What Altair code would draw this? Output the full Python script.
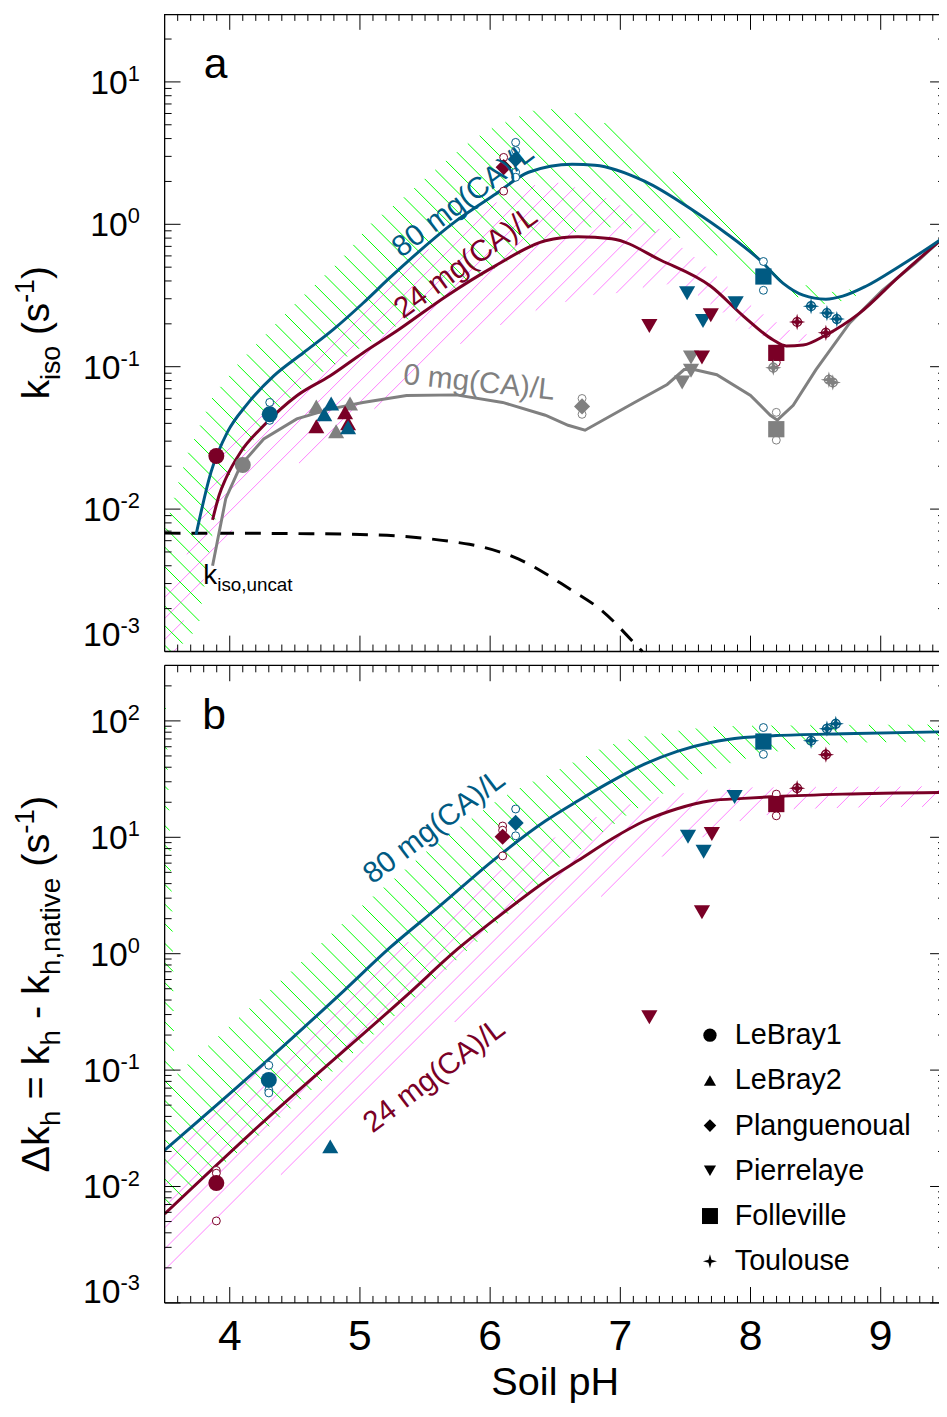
import numpy as np
import pandas as pd
import altair as alt

FONT = "Liberation Sans"
BLUE = "#005a82"
MAROON = "#7a0026"
GREY = "#808080"
GREEN = "#00ff00"
PINK = "#ff80ff"
BLACK = "#000000"

W, H = 781, 643          # plot width, height of one panel
GAP = 14
PB = H + GAP              # top of panel b inside the single view
HT = 2 * H + GAP
PX_PER_PH = 131.31
PH_DOMAIN = [3.5, 3.5 + W / PX_PER_PH]
KA_DOMAIN = [0.001, 30.0]
KB_DOMAIN = [0.001, 300.0]

SITES = ["LeBray1", "LeBray2", "Planguenoual", "Pierrelaye", "Folleville", "Toulouse"]
CONCS = [0, 24, 80]
CONC_COLORS = [GREY, MAROON, BLUE]

# ---------------- panel a: model curves k_iso (s-1) ----------------
a80_ph = [3.741, 3.856, 3.982, 4.134, 4.338, 4.566, 4.794, 5.023, 5.228, 5.739, 6.043, 6.295, 6.630,
          6.805, 7.185, 7.566, 7.817, 8.076, 8.251, 8.404, 8.579, 8.708, 8.883, 9.142, 9.447, 9.5]
a80_k = [0.0066, 0.0182, 0.0347, 0.0546, 0.0861, 0.1253, 0.182, 0.279, 0.42, 1.057, 1.633, 2.32, 2.64,
         2.60, 2.01, 1.24, 0.859, 0.557, 0.385, 0.318, 0.298, 0.313, 0.366, 0.506, 0.767, 0.83]
a24_ph = [3.868, 3.919, 3.97, 4.084, 4.261, 4.515, 4.769, 5.023, 5.282, 5.663, 6.043, 6.424, 6.675,
          6.934, 7.315, 7.695, 7.947, 8.175, 8.274, 8.404, 8.579, 8.838, 9.142, 9.447, 9.5]
a24_k = [0.0084, 0.01256, 0.0164, 0.0252, 0.0386, 0.0625, 0.0861, 0.125, 0.178, 0.313, 0.513, 0.767, 0.818,
         0.792, 0.557, 0.367, 0.226, 0.154, 0.140, 0.142, 0.167, 0.238, 0.431, 0.755, 0.83]
a0_ph = [3.868, 3.97, 4.084, 4.261, 4.515, 4.769, 5.023, 5.358, 5.739, 6.096, 6.424, 6.599, 6.729, 7.109,
         7.360, 7.490, 7.566, 7.741, 8.000, 8.152, 8.206, 8.328, 8.503, 8.762, 9.013, 9.264, 9.447, 9.5]
a0_k = [0.0040, 0.0119, 0.0203, 0.0311, 0.0430, 0.0504, 0.0561, 0.0628, 0.0634, 0.0561, 0.0456, 0.0388, 0.0358,
        0.0561, 0.0750, 0.0955, 0.0955, 0.0879, 0.0628, 0.0456, 0.0421, 0.0535, 0.0953, 0.203, 0.344, 0.531,
        0.755, 0.83]
unc_ph = [3.5, 4.0, 4.5, 5.0, 5.3, 5.74, 5.84, 6.22, 6.6, 6.86, 7.11, 7.17]
unc_k = [0.00678, 0.00677, 0.00673, 0.00664, 0.00646, 0.00585, 0.00566, 0.00445, 0.00279, 0.00193, 0.00114, 0.0010]

# hatched ranges, panel a
ga_up_ph = [3.5, 3.6, 3.675, 3.865, 4.071, 4.30, 4.528, 4.848, 5.076, 5.335, 5.564, 5.815, 6.02, 6.348, 6.5,
            6.706, 6.972, 7.696, 8.213, 8.541, 8.82]
ga_up_k = [0.00697, 0.01483, 0.02438, 0.0608, 0.1067, 0.1782, 0.2931, 0.557, 1.0, 1.549, 2.36, 3.64, 4.79, 6.38,
           6.46, 5.89, 4.79, 1.436, 0.474, 0.328, 0.355]
ga_lo_ph = [3.5, 3.58, 3.76, 3.83, 3.93, 4.086, 4.315, 4.673, 5.03, 5.79, 6.42, 6.8, 7.11, 7.49, 7.82, 8.33,
            8.61, 8.82]
ga_lo_k = [0.00025, 0.001, 0.00147, 0.0043, 0.01324, 0.02323, 0.0456, 0.0865, 0.14, 0.366, 0.767, 0.962,
           0.931, 0.792, 0.557, 0.313, 0.270, 0.316]
ma_up_ph = [3.5, 3.74, 3.86, 3.96, 4.22, 4.47, 4.77, 5.23, 5.74, 6.04, 6.3, 6.5, 6.7, 6.95, 7.13, 7.33, 7.41,
            7.57, 7.7, 7.85, 8.08, 8.33, 8.5]
ma_up_k = [0.00251, 0.00631, 0.0166, 0.0263, 0.0501, 0.0851, 0.155, 0.417, 0.933, 1.41, 1.86, 1.98, 1.78,
           1.46, 1.127, 0.902, 0.767, 0.589, 0.468, 0.347, 0.240, 0.174, 0.166]
ma_lo_ph = [3.5, 3.68, 3.78, 4.086, 4.27, 4.44, 4.65, 4.88, 5.08, 5.28, 5.56, 5.84, 6.14, 6.4, 6.6, 6.78,
            6.97, 7.13, 7.28, 7.57, 7.87, 8.08, 8.33, 8.5]
ma_lo_k = [0.000398, 0.00226, 0.00298, 0.00916, 0.01262, 0.01824, 0.0252, 0.0347, 0.0478, 0.0692, 0.1194,
           0.154, 0.209, 0.258, 0.288, 0.318, 0.328, 0.344, 0.398, 0.328, 0.213, 0.164, 0.147, 0.155]

# ---------------- panel b: model curves delta k_h (s-1) ----------------
b80_ph = [3.5, 4.292, 4.878, 5.228, 5.609, 6.043, 6.424, 6.675, 6.934, 7.185, 7.437, 7.695, 7.947, 8.198,
          8.708, 9.5]
b80_k = [0.0205, 0.1219, 0.482, 1.12, 2.55, 6.6, 13.8, 20.6, 30.4, 42.5, 54.8, 65.3, 71.9, 74.8, 77.6, 80.7]
b24_ph = [3.5, 4.216, 5.381, 5.76, 6.043, 6.424, 6.675, 6.934, 7.185, 7.437, 7.695, 7.947, 8.198, 8.708, 9.5]
b24_k = [0.00582, 0.0326, 0.461, 1.12, 2.0, 4.18, 6.31, 9.68, 13.8, 17.6, 20.6, 21.6, 22.4, 23.5, 24.3]

gb_up_ph = [3.5, 3.56, 3.575, 4.0, 4.5, 5.0, 5.5, 6.0, 6.25, 6.5, 6.88, 7.11, 7.39, 7.66, 7.97, 8.73, 9.5]
gb_up_k = [300.0, 2.0, 0.088, 0.24, 0.759, 2.51, 7.41, 19.05, 27.5, 36.9, 60.1, 71.8, 80.7, 89.1, 90.8, 92.7, 93.3]
gb_lo_ph = [3.5, 3.96, 4.216, 4.5, 5.0, 5.5, 6.0, 6.54, 6.8, 7.06, 7.26, 7.47, 7.68, 7.89, 8.15, 8.73, 9.5]
gb_lo_k = [0.00631, 0.01585, 0.0269, 0.0501, 0.158, 0.501, 1.585, 5.71, 9.68, 15.85, 21.3, 29.6, 36.9, 44.9,
           53.6, 65.0, 66.1]
mb_up_ph = [3.5, 4.5, 5.5, 6.0, 6.5, 6.9, 7.2, 7.6, 8.0, 9.5]
mb_up_k = [0.01995, 0.1905, 1.66, 4.57, 10.0, 16.6, 21.4, 25.1, 26.9, 27.5]
mb_lo_ph = [3.5, 4.73, 6.1, 6.424, 6.94, 7.39, 7.92, 8.33, 9.0, 9.5]
mb_lo_k = [0.0017, 0.0269, 0.603, 1.419, 3.63, 7.64, 13.8, 17.4, 18.2, 18.2]

# ---------------- measurements ----------------
a_site = (["LeBray1"] * 3 + ["LeBray2"] * 9 + ["Planguenoual"] * 3 + ["Pierrelaye"] * 9
          + ["Folleville"] * 3 + ["Toulouse"] * 8)
a_conc = [24, 0, 80,
          0, 80, 0, 80, 24, 24, 0, 24, 80,
          24, 80, 0,
          24, 80, 80, 24, 80, 0, 24, 0, 0,
          80, 24, 0,
          0, 24, 80, 80, 80, 24, 0, 0]
a_ph = [3.897, 4.10, 4.307,
        4.665, 4.779, 4.924, 4.726, 4.886, 4.665, 4.817, 4.909, 4.909,
        6.104, 6.196, 6.706,
        7.223, 7.513, 7.635, 7.695, 7.886, 7.543, 7.627, 7.475, 7.543,
        8.099, 8.198, 8.198,
        8.175, 8.358, 8.465, 8.587, 8.663, 8.579, 8.602, 8.632]
a_k = [0.0236, 0.0204, 0.0463,
       0.0526, 0.0552, 0.0552, 0.0463, 0.0478, 0.0382, 0.0352, 0.0401, 0.0376,
       2.52, 2.86, 0.0526,
       0.193, 0.328, 0.209, 0.23, 0.279, 0.116, 0.116, 0.0774, 0.0938,
       0.430, 0.125, 0.0364,
       0.0984, 0.206, 0.266, 0.238, 0.216, 0.173, 0.081, 0.0775]
ar_conc = [80, 80, 24, 24, 80, 80, 80, 80, 0, 0, 80, 80, 24, 0, 0]
ar_ph = [4.307, 4.307, 6.104, 6.104, 6.196, 6.196, 6.196, 6.196, 6.706, 6.706, 8.099, 8.099, 8.198, 8.198, 8.198]
ar_k = [0.0561, 0.042, 2.95, 1.71, 3.76, 3.3, 2.32, 2.14, 0.0598, 0.0463, 0.548, 0.344, 0.107, 0.0478, 0.0305]

b_site = (["LeBray1"] * 2 + ["LeBray2"] + ["Planguenoual"] * 2 + ["Pierrelaye"] * 6
          + ["Folleville"] * 2 + ["Toulouse"] * 5)
b_conc = [24, 80, 80, 24, 80, 80, 24, 80, 80, 24, 24, 80, 24, 24, 80, 80, 80, 24]
b_ph = [3.897, 4.3, 4.772, 6.096, 6.196, 7.52, 7.703, 7.64, 7.878, 7.627, 7.223, 8.099, 8.198,
        8.358, 8.465, 8.587, 8.655, 8.579]
b_k = [0.0107, 0.0824, 0.0221, 10.1, 13.3, 10.1, 10.7, 7.5, 22.2, 2.27, 0.284, 66.5, 19.3,
       26.4, 67.5, 85.7, 94.4, 51.3]
br_conc = [24, 24, 24, 80, 80, 80, 24, 24, 24, 80, 80, 80, 80, 24, 24]
br_ph = [3.897, 3.897, 3.897, 4.3, 4.3, 4.3, 6.096, 6.096, 6.096, 6.196, 6.196, 8.099, 8.099, 8.198, 8.198]
br_k = [0.01374, 0.0130, 0.00506, 0.110, 0.0675, 0.0637, 12.5, 11.5, 6.92, 17.5, 10.3, 87.7, 51.6, 23.5, 15.3]

X_MAJOR = [4, 5, 6, 7, 8, 9]
X_LABELS = ["4", "5", "6", "7", "8", "9"]
X_MINOR = [round(3.5 + 0.1 * i, 1) for i in range(1, 60) if abs(3.5 + 0.1 * i - round(3.5 + 0.1 * i)) > 1e-6]

STAR = "M0,-1L0.22,-0.22L1,0L0.22,0.22L0,1L-0.22,0.22L-1,0L-0.22,-0.22Z"
SHAPES = ["circle", "triangle-up", "diamond", "triangle-down", "square", STAR]
SIZES = [260, 270, 280, 270, 320, 380]
LEG_SIZES = [180, 150, 160, 150, 260, 200]

xsc = alt.Scale(domain=PH_DOMAIN, nice=False, zero=False)
ysa = alt.Scale(type="log", domain=KA_DOMAIN, range=[H, 0], nice=False)
ysb = alt.Scale(type="log", domain=KB_DOMAIN, range=[PB + H, PB], nice=False)
color_enc = alt.Color("conc:N", scale=alt.Scale(domain=CONCS, range=CONC_COLORS), legend=None)
stroke_enc = alt.Stroke("conc:N", scale=alt.Scale(domain=CONCS, range=CONC_COLORS), legend=None)


def X(f):
    return alt.X(f, scale=xsc, axis=None)


def Y(f, ys):
    return alt.Y(f, scale=ys, axis=None)


CW = {"k": .5, "i": .222, "s": .5, "o": .556, " ": .278, "(": .333, ")": .333, "-": .333,
      "\u0394": .668, "h": .556, "=": .584, ",": .278, "n": .556, "a": .556, "t": .278, "v": .5,
      "e": .556, "u": .556, "c": .5}


def tw(s, size):
    return sum(CW.get(ch, 0.556) for ch in s) * size


def one():
    return pd.DataFrame({"t": [0]})


def txt(s, px, py, size, color=BLACK, angle=0, align="left", baseline="alphabetic"):
    return alt.Chart(pd.DataFrame({"t": [s]})).mark_text(
        align=align, baseline=baseline, fontSize=size, font=FONT, color=color, angle=angle % 360
    ).encode(text="t:N", x=alt.value(float(px)), y=alt.value(float(py)))


def rich(pieces, ax, ay, angle, center=True):
    th = np.radians(angle)
    d = np.array([np.cos(th), np.sin(th)])
    u = np.array([np.sin(th), -np.cos(th)])
    total = sum(tw(s, sz) for s, sz, _ in pieces)
    start = np.array([ax, ay]) - (d * total / 2 if center else 0)
    out, adv = [], 0.0
    for s, sz, shift in pieces:
        lead = len(s) - len(s.lstrip(" "))
        core = s.strip(" ")
        adv += tw(" " * lead, sz)
        p = start + d * adv + u * shift
        out.append(txt(core, p[0], p[1], sz, angle=angle))
        adv += tw(core, sz) + tw(" " * (len(s) - lead - len(core)), sz)
    return out


def hatch(ph_u, k_u, ph_l, k_l, ydom, spacing, slope, phase=0.0):
    l0, l1 = np.log10(ydom[0]), np.log10(ydom[1])
    p0, p1 = PH_DOMAIN
    xs = np.arange(0.0, W + 0.001, 0.25)
    ph = p0 + xs / W * (p1 - p0)
    lo_ph, hi_ph = max(min(ph_u), min(ph_l)), min(max(ph_u), max(ph_l))
    rng = (ph >= lo_ph) & (ph <= hi_ph)
    yu = (l1 - np.interp(ph, ph_u, np.log10(k_u))) / (l1 - l0) * H
    yl = (l1 - np.interp(ph, ph_l, np.log10(k_l))) / (l1 - l0) * H
    step = spacing * np.sqrt(2)
    rows = []
    for c in np.arange(-2 * (W + H), 2 * (W + H), step) + phase:
        y = c + slope * xs
        ins = rng & (y >= yu) & (y <= yl) & (y >= 0) & (y <= H)
        if not ins.any():
            continue
        e = np.diff(np.concatenate([[0], ins.astype(int), [0]]))
        st = np.flatnonzero(e == 1)
        en = np.flatnonzero(e == -1) - 1
        for s, t in zip(st, en):
            if t > s:
                rows.append((ph[s], 10 ** (l1 - y[s] / H * (l1 - l0)),
                             ph[t], 10 ** (l1 - y[t] / H * (l1 - l0))))
    return pd.DataFrame(rows, columns=["x", "y", "x2", "y2"])


def hatch_layer(df, ys, color):
    return alt.Chart(df).mark_rule(color=color, strokeWidth=1, clip=True).encode(
        x=X("x:Q"), x2="x2:Q", y=Y("y:Q", ys), y2="y2:Q")


def curve(ph, k, ys, color, dash=None, interp="monotone"):
    kw = dict(color=color, strokeWidth=3, clip=True, interpolate=interp)
    if dash:
        kw["strokeDash"] = dash
    return alt.Chart(pd.DataFrame({"ph": ph, "k": k})).mark_line(**kw).encode(
        x=X("ph:Q"), y=Y("k:Q", ys))


def marker_layers(site, conc, ph, k, rconc, rph, rk, ys):
    df = pd.DataFrame({"site": site, "conc": conc, "ph": ph, "k": k})
    rdf = pd.DataFrame({"conc": rconc, "ph": rph, "k": rk})
    reps = alt.Chart(rdf).mark_point(shape="circle", size=64, strokeWidth=1, fill="white", fillOpacity=1,
                                     filled=False, opacity=1, clip=True).encode(
        x=X("ph:Q"), y=Y("k:Q", ys), stroke=stroke_enc)
    pts = alt.Chart(df).mark_point(filled=True, opacity=1, clip=True).encode(
        x=X("ph:Q"), y=Y("k:Q", ys), color=color_enc,
        shape=alt.Shape("site:N", scale=alt.Scale(domain=SITES, range=SHAPES), legend=None),
        size=alt.Size("site:N", scale=alt.Scale(domain=SITES, range=SIZES), legend=None))
    ring = alt.Chart(df).transform_filter(alt.datum.site == "Toulouse").mark_point(
        shape="circle", filled=False, size=80, strokeWidth=1.3, opacity=1, clip=True).encode(
        x=X("ph:Q"), y=Y("k:Q", ys), color=color_enc)
    return [reps, pts, ring]


def rule_px(x1, x2, y1, y2, sw=1.0):
    return alt.Chart(one()).mark_rule(color=BLACK, strokeWidth=sw).encode(
        x=alt.value(float(x1)), x2=alt.value(float(x2)), y=alt.value(float(y1)), y2=alt.value(float(y2)))


def frame_and_ticks(ys, ydom, lo_exp, hi_exp, oy):
    majors = [10.0 ** e for e in range(lo_exp, hi_exp + 1) if ydom[0] <= 10.0 ** e <= ydom[1]]
    minors = [m * 10.0 ** e for e in range(lo_exp, hi_exp + 1) for m in range(2, 10)
              if ydom[0] < m * 10.0 ** e < ydom[1]]
    top = oy + 0.7 if oy == 0 else oy
    out = [rule_px(0, W, top, top, 1.3), rule_px(0, W, oy + H, oy + H, 1.3), rule_px(0, 0, oy, oy + H, 1.3)]
    for vals, ln, rl in ((majors, 16, 9), (minors, 7, 1)):
        d = alt.Chart(pd.DataFrame({"v": vals}))
        out.append(d.mark_rule(color=BLACK, strokeWidth=1).encode(
            y=Y("v:Q", ys), x=alt.value(0), x2=alt.value(ln)))
        out.append(d.mark_rule(color=BLACK, strokeWidth=1).encode(
            y=Y("v:Q", ys), x=alt.value(W - rl), x2=alt.value(W)))
    for vals, ln in ((X_MAJOR, 16), (X_MINOR, 7)):
        d = alt.Chart(pd.DataFrame({"v": vals}))
        out.append(d.mark_rule(color=BLACK, strokeWidth=1).encode(
            x=X("v:Q"), y=alt.value(oy + H), y2=alt.value(oy + H - ln)))
        out.append(d.mark_rule(color=BLACK, strokeWidth=1).encode(
            x=X("v:Q"), y=alt.value(oy), y2=alt.value(oy + ln)))
    return out


def ylabel_layers(ys, exps, bottom_exp, lift_bottom):
    out = []
    for e in exps:
        es = str(e)
        lift = lift_bottom if e == bottom_exp else 0
        d = alt.Chart(pd.DataFrame({"v": [10.0 ** e]}))
        out.append(d.mark_text(align="right", baseline="alphabetic", fontSize=34, font=FONT, color=BLACK,
                               dy=12 + lift, text="10").encode(y=Y("v:Q", ys), x=alt.value(-25 - tw(es, 22))))
        out.append(d.mark_text(align="right", baseline="alphabetic", fontSize=22, font=FONT, color=BLACK,
                               dy=-1 + lift, text=es).encode(y=Y("v:Q", ys), x=alt.value(-25)))
    return out


# ---------------- panel a ----------------
layers = [
    hatch_layer(hatch(ma_up_ph, ma_up_k, ma_lo_ph, ma_lo_k, KA_DOMAIN, 15, -1), ysa, PINK),
    hatch_layer(hatch(ga_up_ph, ga_up_k, ga_lo_ph, ga_lo_k, KA_DOMAIN, 14, 1), ysa, GREEN),
    curve(unc_ph, unc_k, ysa, BLACK, [16, 11]),
    curve(a0_ph, a0_k, ysa, GREY, interp="linear"),
    curve(a24_ph, a24_k, ysa, MAROON),
    curve(a80_ph, a80_k, ysa, BLUE),
]
layers += marker_layers(a_site, a_conc, a_ph, a_k, ar_conc, ar_ph, ar_k, ysa)
layers += frame_and_ticks(ysa, KA_DOMAIN, -3, 1, 0)
layers += ylabel_layers(ysa, [1, 0, -1, -2, -3], -3, -18)
layers += [
    txt("a", 39.5, 65, 43),
    txt("80 mg(CA)/L", 301, 188, 30, BLUE, -37, "center", "middle"),
    txt("24 mg(CA)/L", 304, 251, 30, MAROON, -36, "center", "middle"),
    txt("0 mg(CA)/L", 317, 372, 30, GREY, 6, "center", "middle"),
]
layers += rich([("k", 28, 0), ("iso,uncat", 19, -7)], 39, 575, 0, center=False)
layers += rich([("k", 39, 0), ("iso", 27, -11), (" (s", 39, 0), ("-1", 27, 15), (")", 39, 0)],
               -116.5, H / 2, -90)

# ---------------- panel b ----------------
layers += [
    hatch_layer(hatch(mb_up_ph, mb_up_k, mb_lo_ph, mb_lo_k, KB_DOMAIN, 15, -1), ysb, PINK),
    hatch_layer(hatch(gb_up_ph, gb_up_k, gb_lo_ph, gb_lo_k, KB_DOMAIN, 14, 1), ysb, GREEN),
    curve(b24_ph, b24_k, ysb, MAROON),
    curve(b80_ph, b80_k, ysb, BLUE),
]
layers += marker_layers(b_site, b_conc, b_ph, b_k, br_conc, br_ph, br_k, ysb)
layers += frame_and_ticks(ysb, KB_DOMAIN, -3, 2, PB)
layers += ylabel_layers(ysb, [2, 1, 0, -1, -2, -3], -3, -12)
layers += [
    txt("b", 38, PB + 64, 43),
    txt("80 mg(CA)/L", 272, PB + 163, 30, BLUE, -37, "center", "middle"),
    txt("24 mg(CA)/L", 272, PB + 414, 30, MAROON, -37, "center", "middle"),
    alt.Chart(pd.DataFrame({"v": X_MAJOR, "t": X_LABELS})).mark_text(
        align="center", baseline="alphabetic", fontSize=43, font=FONT, color=BLACK).encode(
        x=X("v:Q"), y=alt.value(PB + H + 48), text="t:N"),
    txt("Soil pH", PX_PER_PH * 3.0, PB + H + 93, 40, align="center"),
]
for i, (s, shp, sz) in enumerate(zip(SITES, SHAPES, LEG_SIZES)):
    layers.append(alt.Chart(pd.DataFrame({"s": [s]})).mark_point(
        shape=shp, size=sz, filled=True, color=BLACK, opacity=1).encode(
        x=alt.value(550), y=alt.value(PB + 373 + i * 45.6)))
    layers.append(txt(s, 575, PB + 382 + i * 45.6, 29))
layers += rich([("\u0394k", 40, 0), ("h", 28, -11), (" = k", 40, 0), ("h", 28, -11), (" - k", 40, 0),
                ("h,native", 28, -11), (" (s", 40, 0), ("-1", 28, 15), (")", 40, 0)],
               -116.5, PB + H / 2, -90)

chart = alt.layer(*layers).resolve_scale(y="independent").properties(
    width=W, height=HT,
    autosize=alt.AutoSizeParams(type="none"),
    padding={"left": 158, "top": 0, "right": 0, "bottom": 101},
).configure_view(strokeWidth=0, stroke=None)

chart.save("out.html", embed_options={"renderer": "svg", "actions": False})
